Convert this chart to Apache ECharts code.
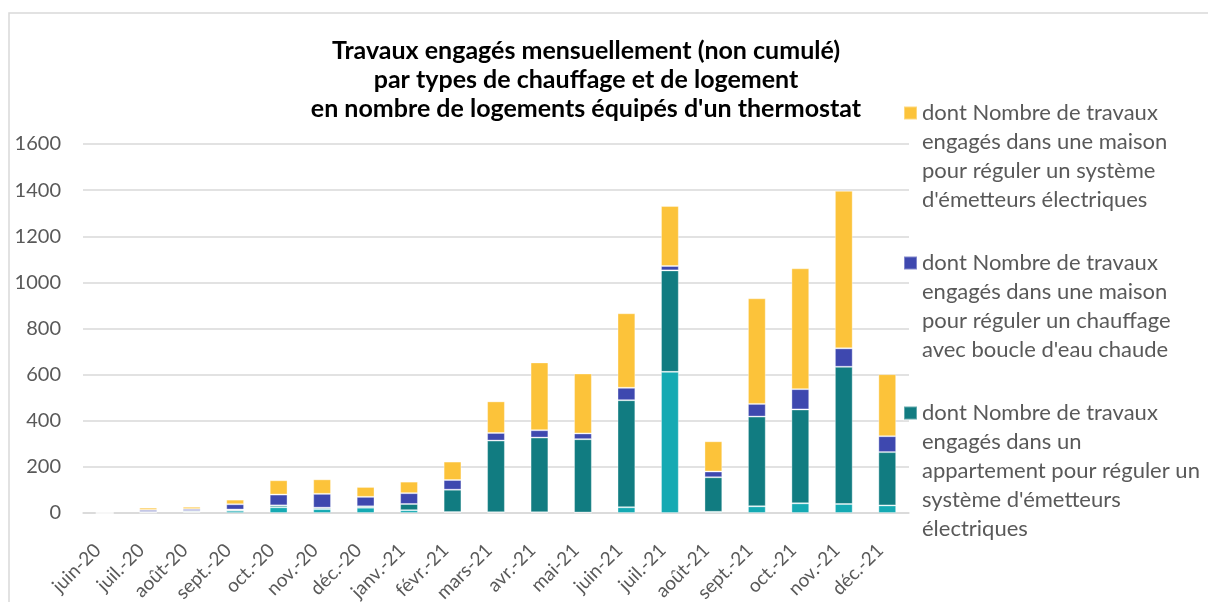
<!DOCTYPE html>
<html>
<head>
<meta charset="utf-8">
<script src="https://cdn.jsdelivr.net/npm/echarts@6/dist/echarts.min.js"></script>
<style>html,body{margin:0;padding:0;background:#fff}#c{width:1208px;height:602px}</style>
</head>
<body>
<div id="c"></div>
<script>
const categories = ['juin-20','juil.-20','août-20','sept.-20','oct.-20','nov.-20','déc.-20','janv.-21','févr.-21','mars-21','avr.-21','mai-21','juin-21','juil.-21','août-21','sept.-21','oct.-21','nov.-21','déc.-21'];
const apptBoucle  = [0, 2, 4, 10, 25, 17, 23, 12, 4, 3, 3, 2, 25, 612, 5, 29, 42, 39, 33];
const apptElec    = [0, 3, 5, 5, 8, 6, 6, 27, 97, 311, 324, 318, 464, 440, 150, 389, 407, 595, 231];
const maisonBoucle= [0, 8, 8, 23, 47, 60, 41, 47, 42, 33, 32, 25, 54, 19, 25, 55, 88, 80, 69];
const maisonElec  = [0, 10, 10, 20, 62, 63, 43, 50, 80, 137, 294, 260, 323, 260, 131, 458, 524, 683, 269];
const yTicks = [0, 200, 400, 600, 800, 1000, 1200, 1400, 1600];

const nameYellow = "dont Nombre de travaux engagés dans une maison pour réguler un système d'émetteurs électriques";
const nameBlue = "dont Nombre de travaux engagés dans une maison pour réguler un chauffage avec boucle d'eau chaude";
const nameTeal = "dont Nombre de travaux engagés dans un appartement pour réguler un système d'émetteurs électriques";
const nameCyan = "dont Nombre de travaux engagés dans un appartement pour réguler un chauffage avec boucle d'eau chaude";

const legendLines = {};
legendLines[nameYellow] = ["dont Nombre de travaux","engagés dans une maison","pour réguler un système","d'émetteurs électriques"];
legendLines[nameBlue] = ["dont Nombre de travaux","engagés dans une maison","pour réguler un chauffage","avec boucle d'eau chaude"];
legendLines[nameTeal] = ["dont Nombre de travaux","engagés dans un","appartement pour réguler un","système d'émetteurs","électriques"];

const FONT = 'Lato';
const LH = 29;
function legendFmt(name){
  const l = legendLines[name];
  const pad = new Array(l.length - 1).fill('');
  return pad.concat(l).join('\n');
}
function mkLegend(name, firstLineY){
  const n = legendLines[name].length;
  const blockLines = 2*n - 1;
  return {
    data: [name], left: 903, top: firstLineY - (blockLines*LH)/2,
    padding: 0, itemWidth: 13, itemHeight: 13, icon: 'rect',
    formatter: legendFmt, selectedMode: false,
    textStyle: {fontFamily: FONT, fontSize: 22, color: '#595959', lineHeight: LH}
  };
}

const chart = echarts.init(document.getElementById('c'), null, {renderer: 'canvas'});
const common = {type: 'bar', stack: 'total', barCategoryGap: '59%', itemStyle: {borderColor: 'rgba(255,255,255,0.35)', borderWidth: 1}};
const legends = [[nameYellow, 113], [nameBlue, 263], [nameTeal, 413]].map(([n, y]) => mkLegend(n, y));

chart.setOption({
  animation: false,
  color: ['#15AAB3', '#117C81', '#3E48AF', '#FCC33A'],
  legend: legends,
  graphic: [
    {type: 'rect', shape: {x: 9, y: 13, width: 1300, height: 700}, style: {fill: 'none', stroke: '#d9d9d9', lineWidth: 1.5}, silent: true},
    {type: 'text', x: 586, y: 36, style: {text: "Travaux engagés mensuellement (non cumulé)\npar types de chauffage et de logement\nen nombre de logements équipés d'un thermostat", align: 'center', verticalAlign: 'top', fontFamily: FONT, fontWeight: 'bold', fontSize: 25, lineHeight: 29, fill: '#000'}}
  ],
  grid: {left: 83, right: 299, top: 144, bottom: 89, containLabel: false, outerBoundsMode: 'none'},
  xAxis: {
    type: 'category', data: categories,
    axisLine: {show: true, lineStyle: {color: '#d9d9d9', width: 1.5}},
    axisTick: {show: false},
    axisLabel: {interval: 0, rotate: 45, fontFamily: FONT, fontSize: 19, color: '#595959', margin: 27, padding: [0, 10, 0, 0]}
  },
  yAxis: {
    type: 'value', min: 0, max: 1600, interval: 200,
    axisLine: {show: false}, axisTick: {show: false},
    splitLine: {lineStyle: {color: '#d9d9d9', width: 1.5}},
    axisLabel: {fontFamily: FONT, fontSize: 20, color: '#595959', margin: 22,
      formatter: v => yTicks.includes(v) ? String(v) : ''}
  },
  series: [
    Object.assign({name: nameCyan, data: apptBoucle}, common),
    Object.assign({name: nameTeal, data: apptElec}, common),
    Object.assign({name: nameBlue, data: maisonBoucle}, common),
    Object.assign({name: nameYellow, data: maisonElec}, common)
  ]
});
</script>
</body>
</html>
